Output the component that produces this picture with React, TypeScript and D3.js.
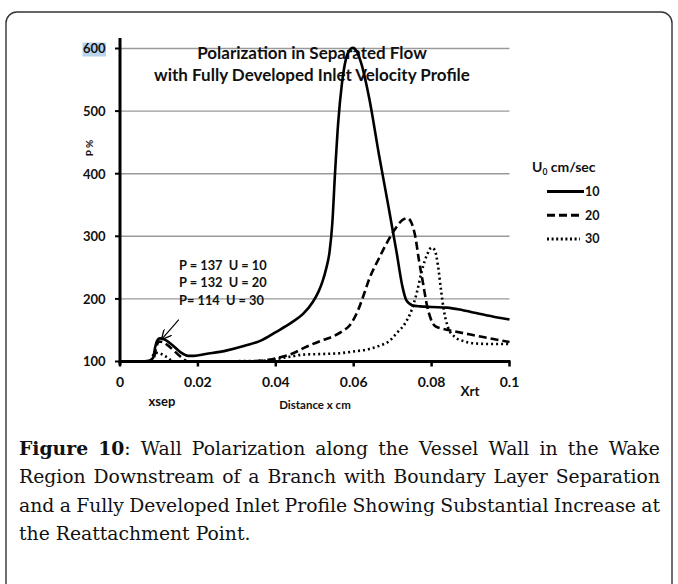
import React from "react";
import * as d3 from "d3";

// distance along the wall (cm) and polarization P (%)
const x10 = [0, 0.005, 0.0075, 0.0085, 0.009, 0.0095, 0.0102, 0.0115, 0.0135, 0.0155, 0.0175, 0.019, 0.022, 0.027, 0.032, 0.036, 0.04, 0.044, 0.047, 0.0495, 0.051, 0.052, 0.053, 0.0538, 0.0545, 0.0552, 0.056, 0.057, 0.058, 0.059, 0.0598, 0.0608, 0.062, 0.064, 0.0665, 0.069, 0.071, 0.0725, 0.0735, 0.075, 0.077, 0.08, 0.084, 0.088, 0.094, 0.1];
const p10 = [100, 100, 101, 106, 122, 133, 137, 135, 126, 115, 109, 109, 112, 117, 125, 133, 147, 162, 176, 195, 212, 228, 250, 275, 320, 400, 480, 545, 583, 598, 601, 595, 575, 520, 430, 345, 275, 220, 198, 190, 188, 187, 186, 182, 174, 167];

const x20 = [0, 0.006, 0.008, 0.0088, 0.0093, 0.01, 0.011, 0.013, 0.0155, 0.0175, 0.03, 0.036, 0.04, 0.044, 0.048, 0.052, 0.055, 0.057, 0.059, 0.061, 0.0625, 0.064, 0.0665, 0.069, 0.071, 0.0725, 0.0738, 0.0748, 0.0758, 0.0768, 0.0778, 0.0788, 0.0798, 0.081, 0.083, 0.086, 0.09, 0.095, 0.1];
const p20 = [100, 100, 101, 108, 122, 132, 131, 122, 108, 100, 100, 101, 105, 112, 124, 134, 141, 148, 158, 180, 205, 232, 265, 295, 315, 326, 329, 322, 300, 260, 225, 190, 168, 156, 152, 148, 143, 137, 131];

const x30 = [0, 0.006, 0.0078, 0.0085, 0.0092, 0.0102, 0.012, 0.0135, 0.015, 0.036, 0.04, 0.044, 0.047, 0.052, 0.056, 0.06, 0.064, 0.067, 0.069, 0.071, 0.0733, 0.0748, 0.0762, 0.0775, 0.0788, 0.08, 0.0808, 0.0816, 0.0824, 0.0832, 0.0842, 0.0858, 0.088, 0.091, 0.095, 0.1];
const p30 = [100, 100, 102, 110, 114, 113, 107, 101, 100, 101, 104, 108, 111, 112, 113, 116, 120, 126, 132, 145, 162, 181, 210, 245, 270, 282, 278, 255, 215, 180, 155, 140, 133, 129, 128, 128];

const seriesNames = ["10", "20", "30"];
const xTicks = [0, 0.02, 0.04, 0.06, 0.08, 0.1];
const xTickLabels = ["0", "0.02", "0.04", "0.06", "0.08", "0.1"];
const yTicks = [100, 200, 300, 400, 500, 600];

const titleLines = ["Polarization in Separated Flow", "with Fully Developed Inlet Velocity Profile"];
const noteLines = ["P = 137  U = 10", "P = 132  U = 20", "P= 114  U = 30"];
// arrow from note to the separation peak: [x, P]
const arrowFrom = [0.0151, 167];
const arrowTo = [0.0108, 136];

const captionLines = [
  "Figure 10: Wall Polarization along the Vessel Wall in the Wake",
  "Region Downstream of a Branch with Boundary Layer Separation",
  "and a Fully Developed Inlet Profile Showing Substantial Increase at",
  "the Reattachment Point.",
];

const styles = [
  { dash: null, width: 2.6 },
  { dash: "8,4", width: 2.6 },
  { dash: "2,3", width: 2.6 },
];

const font = "Lato, 'Open Sans', sans-serif";
const serif = "'DejaVu Serif', 'Liberation Serif', serif";

const App = () => {
  const capRef = React.useRef(null);

  const xScale = d3.scaleLinear().domain([0, 0.1]).range([120, 509.5]);
  const yScale = d3.scaleLinear().domain([100, 600]).range([361.5, 48.5]);

  const line = d3
    .line()
    .x((d) => xScale(d[0]))
    .y((d) => yScale(d[1]))
    .curve(d3.curveMonotoneX);

  const series = [
    x10.map((x, i) => [x, p10[i]]),
    x20.map((x, i) => [x, p20[i]]),
    x30.map((x, i) => [x, p30[i]]),
  ];

  // justified caption, word by word
  React.useEffect(() => {
    const g = d3.select(capRef.current);
    g.selectAll("*").remove();
    const left = 19;
    const right = 660;
    const size = 18.8;
    const lh = 28.3;
    const y0 = 455;

    const probe = g.append("text").attr("font-family", serif).attr("font-size", size);
    probe.text("a a");
    const w1 = probe.node().getComputedTextLength();
    probe.text("aa");
    const space = w1 - probe.node().getComputedTextLength();
    probe.remove();

    captionLines.forEach((ln, i) => {
      const words = ln.split(" ");
      const nodes = words.map((w, j) => {
        const t = g
          .append("text")
          .attr("y", y0 + i * lh)
          .attr("font-family", serif)
          .attr("font-size", size)
          .attr("fill", "#111");
        if (i === 0 && j === 0) {
          t.append("tspan").attr("font-weight", "bold").text(w);
        } else if (i === 0 && j === 1) {
          t.append("tspan").attr("font-weight", "bold").text("10");
          t.append("tspan").text(":");
        } else {
          t.text(w);
        }
        return t;
      });
      const widths = nodes.map((n) => n.node().getComputedTextLength());
      const sum = d3.sum(widths);
      const last = i === captionLines.length - 1;
      const gap = last ? space : (right - left - sum) / (words.length - 1);
      let x = left;
      nodes.forEach((n, j) => {
        n.attr("x", x);
        x += widths[j] + gap;
      });
    });
  }, []);

  return (
    <svg width={678} height={584} style={{ position: "absolute", left: 0, top: 0 }}>
      <rect x={0} y={0} width={678} height={584} fill="#fff" />
      <rect x={6} y={12} width={666} height={620} rx={11} fill="none" stroke="#333" strokeWidth={1.4} />

      {/* grid */}
      {yTicks.slice(1).map((v) => (
        <line key={v} x1={xScale(0)} x2={xScale(0.1)} y1={yScale(v)} y2={yScale(v)} stroke="#9a9a9a" strokeWidth={1.4} />
      ))}

      {/* title */}
      {titleLines.map((t, i) => (
        <text key={t} x={312} y={59 + i * 21.5} textAnchor="middle" fontFamily={font} fontWeight="bold" fontSize={17} fill="#111">
          {t}
        </text>
      ))}

      {/* curves */}
      {series.map((s, i) => (
        <path
          key={seriesNames[i]}
          d={line(s)}
          fill="none"
          stroke="#000"
          strokeWidth={styles[i].width}
          strokeDasharray={styles[i].dash || undefined}
        />
      ))}

      {/* axes */}
      <line x1={xScale(0)} x2={xScale(0)} y1={38} y2={365} stroke="#000" strokeWidth={3} />
      <line x1={xScale(0) - 1.5} x2={xScale(0.1) + 1} y1={yScale(100)} y2={yScale(100)} stroke="#000" strokeWidth={3} />
      {yTicks.map((v) => (
        <line key={v} x1={xScale(0) - 5} x2={xScale(0)} y1={yScale(v)} y2={yScale(v)} stroke="#000" strokeWidth={2} />
      ))}
      {xTicks.map((v) => (
        <line key={v} x1={xScale(v)} x2={xScale(v)} y1={yScale(100)} y2={yScale(100) + 5} stroke="#000" strokeWidth={2.5} />
      ))}

      {/* selection highlight on the top label */}
      <rect x={82.5} y={42.5} width={23.5} height={14} fill="#b7d4ec" />
      {yTicks.map((v) => (
        <text key={v} x={105.5} y={yScale(v) + 4.8} textAnchor="end" fontFamily={font} fontWeight="bold" fontSize={13} fill="#111">
          {v}
        </text>
      ))}
      {xTicks.map((v, i) => (
        <text key={v} x={xScale(v)} y={386.5} textAnchor="middle" fontFamily={font} fontWeight="bold" fontSize={14} fill="#111">
          {xTickLabels[i]}
        </text>
      ))}

      <text x={90} y={148} transform="rotate(-90 90 148)" textAnchor="middle" dominantBaseline="middle" fontFamily={font} fontWeight="bold" fontSize={10} fill="#111">
        P %
      </text>
      <text x={315} y={409} textAnchor="middle" fontFamily={font} fontWeight="bold" fontSize={11.5} fill="#111">
        Distance x cm
      </text>
      <text x={162} y={406} textAnchor="middle" fontFamily={font} fontWeight="bold" fontSize={13} fill="#111">
        xsep
      </text>
      <text x={470} y={395.5} textAnchor="middle" fontFamily={font} fontWeight="bold" fontSize={13.5} fill="#111">
        Xrt
      </text>

      {/* note and arrow */}
      {noteLines.map((t, i) => (
        <text key={t} x={179} y={270 + i * 17.3} fontFamily={font} fontWeight="bold" fontSize={12.8} fill="#111" style={{ whiteSpace: "pre" }}>
          {t}
        </text>
      ))}
      <defs>
        <marker id="arr" viewBox="0 0 10 10" refX={9} refY={5} markerWidth={10} markerHeight={10} orient="auto" markerUnits="userSpaceOnUse">
          <path d="M0,0 L10,5 L0,10" fill="none" stroke="#000" strokeWidth={1.3} />
        </marker>
      </defs>
      <line
        x1={xScale(arrowFrom[0])}
        y1={yScale(arrowFrom[1])}
        x2={xScale(arrowTo[0])}
        y2={yScale(arrowTo[1])}
        stroke="#000"
        strokeWidth={1.2}
        markerEnd="url(#arr)"
      />

      {/* legend */}
      <text x={532} y={171.5} fontFamily={font} fontWeight="bold" fontSize={14} fill="#111">
        U<tspan fontSize={8.5} dy={3}>0</tspan>
        <tspan dy={-3}> cm/sec</tspan>
      </text>
      {seriesNames.map((n, i) => (
        <g key={n} transform={`translate(0, ${191.5 + i * 23.7})`}>
          <line x1={547} x2={i === 0 ? 584 : 580} y1={0} y2={0} stroke="#000" strokeWidth={3} strokeDasharray={i === 1 ? "8,4" : i === 2 ? "2,2.6" : undefined} />
          <text x={585} y={4.5} fontFamily={font} fontWeight="bold" fontSize={12.5} fill="#111">
            {n}
          </text>
        </g>
      ))}

      <g ref={capRef} />
    </svg>
  );
};

export default App;
